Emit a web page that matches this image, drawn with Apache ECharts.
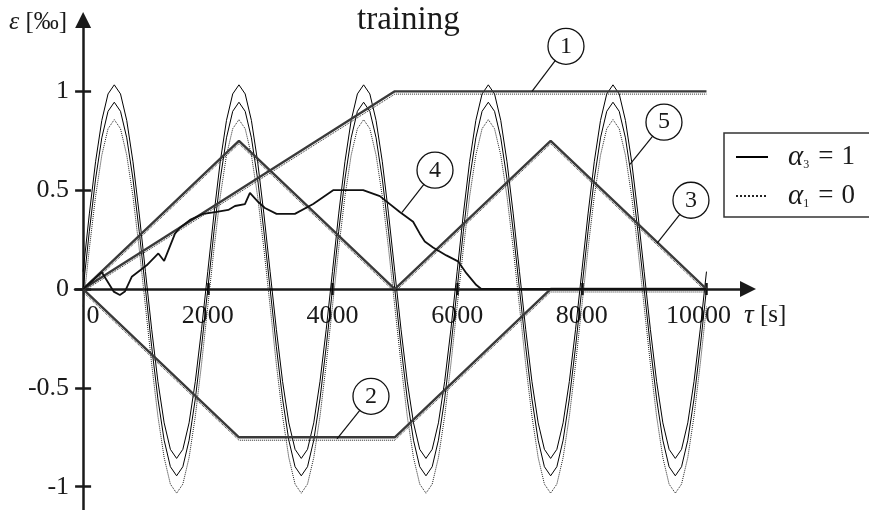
<!DOCTYPE html>
<html>
<head>
<meta charset="utf-8">
<script src="https://cdn.jsdelivr.net/npm/echarts@6/dist/echarts.min.js"></script>
<style>
  html, body { margin: 0; padding: 0; background: #fff; }
  #chart { width: 869px; height: 510px; }
</style>
</head>
<body>
<div id="chart"></div>
<script>
// Axis ticks and labels
const tauLabels = [0, 2000, 4000, 6000, 8000, 10000];
const tauTicks = [2000, 4000, 6000, 8000, 10000];
const epsLabels = [-1, -0.5, 0, 0.5, 1];

// Cyclic load (5): three sampled responses, every 100 s
const sineTau = [
  0, 100, 200, 300, 400, 500, 600, 700, 800, 900,
  1000, 1100, 1200, 1300, 1400, 1500, 1600, 1700, 1800, 1900,
  2000, 2100, 2200, 2300, 2400, 2500, 2600, 2700, 2800, 2900,
  3000, 3100, 3200, 3300, 3400, 3500, 3600, 3700, 3800, 3900,
  4000, 4100, 4200, 4300, 4400, 4500, 4600, 4700, 4800, 4900,
  5000, 5100, 5200, 5300, 5400, 5500, 5600, 5700, 5800, 5900,
  6000, 6100, 6200, 6300, 6400, 6500, 6600, 6700, 6800, 6900,
  7000, 7100, 7200, 7300, 7400, 7500, 7600, 7700, 7800, 7900,
  8000, 8100, 8200, 8300, 8400, 8500, 8600, 8700, 8800, 8900,
  9000, 9100, 9200, 9300, 9400, 9500, 9600, 9700, 9800, 9900,
  10000
];
const sineUpper = [
  0.088, 0.380, 0.644, 0.853, 0.987, 1.033, 0.987, 0.853, 0.644, 0.380, 0.088, -0.204, -0.468, -0.677, -0.811, -0.857, -0.811, -0.677, -0.468, -0.204,
  0.088, 0.380, 0.644, 0.853, 0.987, 1.033, 0.987, 0.853, 0.644, 0.380, 0.088, -0.204, -0.468, -0.677, -0.811, -0.857, -0.811, -0.677, -0.468, -0.204,
  0.088, 0.380, 0.644, 0.853, 0.987, 1.033, 0.987, 0.853, 0.644, 0.380, 0.088, -0.204, -0.468, -0.677, -0.811, -0.857, -0.811, -0.677, -0.468, -0.204,
  0.088, 0.380, 0.644, 0.853, 0.987, 1.033, 0.987, 0.853, 0.644, 0.380, 0.088, -0.204, -0.468, -0.677, -0.811, -0.857, -0.811, -0.677, -0.468, -0.204,
  0.088, 0.380, 0.644, 0.853, 0.987, 1.033, 0.987, 0.853, 0.644, 0.380, 0.088, -0.204, -0.468, -0.677, -0.811, -0.857, -0.811, -0.677, -0.468, -0.204,
  0.088
];
const sineMiddle = [
  0, 0.292, 0.556, 0.765, 0.899, 0.945, 0.899, 0.765, 0.556, 0.292, 0, -0.292, -0.556, -0.765, -0.899, -0.945, -0.899, -0.765, -0.556, -0.292,
  0, 0.292, 0.556, 0.765, 0.899, 0.945, 0.899, 0.765, 0.556, 0.292, 0, -0.292, -0.556, -0.765, -0.899, -0.945, -0.899, -0.765, -0.556, -0.292,
  0, 0.292, 0.556, 0.765, 0.899, 0.945, 0.899, 0.765, 0.556, 0.292, 0, -0.292, -0.556, -0.765, -0.899, -0.945, -0.899, -0.765, -0.556, -0.292,
  0, 0.292, 0.556, 0.765, 0.899, 0.945, 0.899, 0.765, 0.556, 0.292, 0, -0.292, -0.556, -0.765, -0.899, -0.945, -0.899, -0.765, -0.556, -0.292,
  0, 0.292, 0.556, 0.765, 0.899, 0.945, 0.899, 0.765, 0.556, 0.292, 0, -0.292, -0.556, -0.765, -0.899, -0.945, -0.899, -0.765, -0.556, -0.292,
  0
];
const sineLower = [
  -0.088, 0.204, 0.468, 0.677, 0.811, 0.857, 0.811, 0.677, 0.468, 0.204, -0.088, -0.380, -0.644, -0.853, -0.987, -1.033, -0.987, -0.853, -0.644, -0.380,
  -0.088, 0.204, 0.468, 0.677, 0.811, 0.857, 0.811, 0.677, 0.468, 0.204, -0.088, -0.380, -0.644, -0.853, -0.987, -1.033, -0.987, -0.853, -0.644, -0.380,
  -0.088, 0.204, 0.468, 0.677, 0.811, 0.857, 0.811, 0.677, 0.468, 0.204, -0.088, -0.380, -0.644, -0.853, -0.987, -1.033, -0.987, -0.853, -0.644, -0.380,
  -0.088, 0.204, 0.468, 0.677, 0.811, 0.857, 0.811, 0.677, 0.468, 0.204, -0.088, -0.380, -0.644, -0.853, -0.987, -1.033, -0.987, -0.853, -0.644, -0.380,
  -0.088, 0.204, 0.468, 0.677, 0.811, 0.857, 0.811, 0.677, 0.468, 0.204, -0.088, -0.380, -0.644, -0.853, -0.987, -1.033, -0.987, -0.853, -0.644, -0.380,
  -0.088
];

// Ramp and hold (1)
const rampTau = [0, 5000, 10000];
const rampSolid = [0, 1, 1];
const rampDotted = [-0.012, 0.986, 0.986];

// Compression trapezoid (2)
const trapTau = [0, 2500, 5000, 7500, 10000];
const trapSolid = [0, -0.75, -0.75, 0, 0];
const trapDotted = [-0.015, -0.765, -0.765, -0.015, -0.015];

// Double triangle (3)
const triTau = [0, 2500, 5000, 7500, 10000];
const triSolid = [0, 0.75, 0, 0.75, 0];
const triDotted = [-0.015, 0.735, -0.015, 0.735, -0.015];

// Measured history (4)
const measTau = [0, 300, 490, 590, 670, 780, 1020, 1207, 1300, 1474, 1554, 1715, 1928, 2142, 2329, 2436, 2596, 2676, 2810, 2917, 3103, 3397, 3691, 4011, 4492, 4760, 5080, 5294, 5401, 5481, 5614, 5827, 6014, 6148, 6308, 6388, 10000];
const measEps = [0, 0.085, -0.013, -0.03, -0.013, 0.062, 0.12, 0.18, 0.142, 0.28, 0.31, 0.35, 0.38, 0.39, 0.40, 0.42, 0.43, 0.486, 0.44, 0.41, 0.38, 0.38, 0.43, 0.50, 0.50, 0.47, 0.39, 0.34, 0.28, 0.24, 0.21, 0.17, 0.14, 0.08, 0.02, 0, 0];

// Numbered callouts: bubble position and the point on the curve
const tagText = ['1', '2', '3', '4', '5'];
const tagAt = [[7746, 1.228], [4618, -0.543], [9751, 0.449], [5645, 0.601], [9318, 0.844]];
const tagPoint = [[7201, 1.0], [4073, -0.758], [9206, 0.231], [5116, 0.388], [8773, 0.631]];

const SERIF = 'Liberation Serif';
const INK = '#1a1a1a';

// Axis extents; the two axes cross at the origin
const TAU_MIN = -130, TAU_MAX = 10666;
const EPS_MIN = -1.118, EPS_MAX = 1.361;
const GRID = { left: 75, right: 121, top: 20, bottom: 0 };
const chartW = 869, chartH = 510;
const plotW = chartW - GRID.left - GRID.right;
const plotH = chartH - GRID.top - GRID.bottom;
// shift the axes from the grid edges onto the zero lines
const xAxisShift = -plotH * (0 - EPS_MIN) / (EPS_MAX - EPS_MIN);
const yAxisShift = -plotW * (0 - TAU_MIN) / (TAU_MAX - TAU_MIN);

const pair = (xs, ys) => xs.map((x, i) => [x, ys[i]]);

function curve(name, xs, ys, style) {
  return {
    type: 'line', name: name, data: pair(xs, ys),
    symbol: 'none', showSymbol: false, silent: true,
    itemStyle: { color: style.color },
    lineStyle: style, z: 3
  };
}

const thin = { color: '#000', width: 1, type: 'solid' };
const dot = { color: '#222', width: 1, type: 'dotted' };
const band = { color: '#3a3a3a', width: 2.4, type: 'solid' };
const tickStyle = { color: INK, width: 2.5 };

const chart = echarts.init(document.getElementById('chart'), null, { renderer: 'canvas' });

chart.setOption({
  animation: false,
  backgroundColor: '#fff',
  textStyle: { fontFamily: SERIF, color: INK },
  title: {
    text: 'training', left: 352, top: -1,
    textStyle: { fontFamily: SERIF, fontSize: 33, fontWeight: 'normal', color: INK }
  },
  legend: {
    data: ['alpha3', 'alpha1'],
    orient: 'vertical', left: 724, top: 133,
    padding: [9, 60, 6, 11], itemGap: 9,
    itemWidth: 32, itemHeight: 14,
    borderColor: '#333', borderWidth: 1.5, borderRadius: 0,
    backgroundColor: '#fff',
    selectedMode: false,
    itemStyle: { color: 'rgba(0,0,0,0)', borderColor: 'rgba(0,0,0,0)', borderWidth: 0 },
    formatter: function (n) {
      return n === 'alpha3' ? '{g|α}{s|3}{e|=}{n|1}' : '{g|α}{s|1}{e|=}{n|0}';
    },
    textStyle: {
      fontFamily: SERIF, fontSize: 26, color: INK, padding: [0, 0, 0, 15], lineHeight: 30,
      rich: {
        g: { fontFamily: SERIF, fontStyle: 'italic', fontSize: 29, color: INK },
        s: { fontFamily: SERIF, fontSize: 12, color: INK, padding: [15, 0, 0, 0] },
        e: { fontFamily: SERIF, fontSize: 27, color: INK, padding: [0, 8, 0, 9] },
        n: { fontFamily: SERIF, fontSize: 27, color: INK }
      }
    }
  },
  grid: Object.assign({ outerBoundsMode: 'none', containLabel: false }, GRID),
  xAxis: [
    {
      type: 'value', min: TAU_MIN, max: TAU_MAX,
      position: 'bottom', offset: xAxisShift,
      name: '{t|τ} [s]', nameLocation: 'end', nameGap: -4,
      nameTextStyle: {
        fontFamily: SERIF, fontSize: 25, color: INK, align: 'left', verticalAlign: 'top', padding: [13, 0, 0, 0],
        rich: { t: { fontStyle: 'italic', fontFamily: SERIF, fontSize: 27, color: INK } }
      },
      axisLine: { show: true, onZero: false, symbol: ['none', 'triangle'], symbolSize: [16, 16], lineStyle: { color: INK, width: 2.5 } },
      axisTick: { show: true, customValues: tauTicks, length: 6, lineStyle: tickStyle },
      axisLabel: {
        show: true, customValues: tauLabels, margin: 14,
        fontFamily: SERIF, fontSize: 26, color: INK,
        formatter: function (v) {
          if (v === 0) return '{r|0}';
          if (v === 10000) return '{l|10000}';
          return String(v);
        },
        rich: {
          r: { fontFamily: SERIF, fontSize: 26, color: INK, padding: [0, 0, 0, 20] },
          l: { fontFamily: SERIF, fontSize: 26, color: INK, padding: [0, 16, 0, 0] }
        }
      },
      splitLine: { show: false }
    },
    {
      type: 'value', min: TAU_MIN, max: TAU_MAX,
      position: 'bottom', offset: xAxisShift,
      axisLine: { show: false, onZero: false },
      axisTick: { show: true, inside: true, customValues: tauTicks, length: 6, lineStyle: tickStyle },
      axisLabel: { show: false },
      splitLine: { show: false }
    }
  ],
  yAxis: [
    {
      type: 'value', min: EPS_MIN, max: EPS_MAX,
      position: 'left', offset: yAxisShift,
      name: '{e|ε} [‰]', nameLocation: 'end', nameGap: -2,
      nameTextStyle: {
        fontFamily: SERIF, fontSize: 25, color: INK, align: 'right', verticalAlign: 'middle', padding: [0, 16, 0, 0],
        rich: { e: { fontFamily: SERIF, fontStyle: 'italic', fontSize: 26, color: INK } }
      },
      axisLine: { show: true, onZero: false, symbol: ['none', 'triangle'], symbolSize: [16, 16], lineStyle: { color: INK, width: 2.5 } },
      axisTick: { show: true, customValues: epsLabels, length: 8, lineStyle: tickStyle },
      axisLabel: {
        show: true, customValues: epsLabels, margin: 14, fontFamily: SERIF, fontSize: 26, color: INK,
        formatter: function (v) { return String(v); }
      },
      splitLine: { show: false }
    },
    {
      type: 'value', min: EPS_MIN, max: EPS_MAX,
      position: 'left', offset: yAxisShift,
      axisLine: { show: false, onZero: false },
      axisTick: { show: true, inside: true, customValues: epsLabels, length: 8, lineStyle: tickStyle },
      axisLabel: { show: false },
      splitLine: { show: false }
    }
  ],
  series: [
    curve('alpha3', sineTau, sineUpper, thin),
    curve('alpha1', sineTau, sineLower, dot),
    curve('alpha3', sineTau, sineMiddle, thin),
    curve('alpha3', rampTau, rampSolid, band),
    curve('alpha1', rampTau, rampDotted, dot),
    curve('alpha3', trapTau, trapSolid, band),
    curve('alpha1', trapTau, trapDotted, dot),
    curve('alpha3', triTau, triSolid, band),
    curve('alpha1', triTau, triDotted, dot),
    curve('alpha3', measTau, measEps, { color: '#111', width: 1.8, type: 'solid' }),
    {
      type: 'lines', coordinateSystem: 'cartesian2d', silent: true, z: 8,
      lineStyle: { color: '#111', width: 1.2, opacity: 1, curveness: 0 },
      data: tagAt.map((p, i) => ({ coords: [p, tagPoint[i]] }))
    },
    {
      type: 'scatter', silent: true, z: 9,
      symbol: 'circle', symbolSize: 36,
      itemStyle: { color: '#fff', borderColor: '#111', borderWidth: 1.3, opacity: 1 },
      label: {
        show: true, position: 'inside', fontFamily: SERIF, fontSize: 24, color: INK,
        formatter: function (p) { return p.value[2]; }
      },
      data: tagAt.map((p, i) => [p[0], p[1], tagText[i]])
    }
  ]
});
</script>
</body>
</html>
